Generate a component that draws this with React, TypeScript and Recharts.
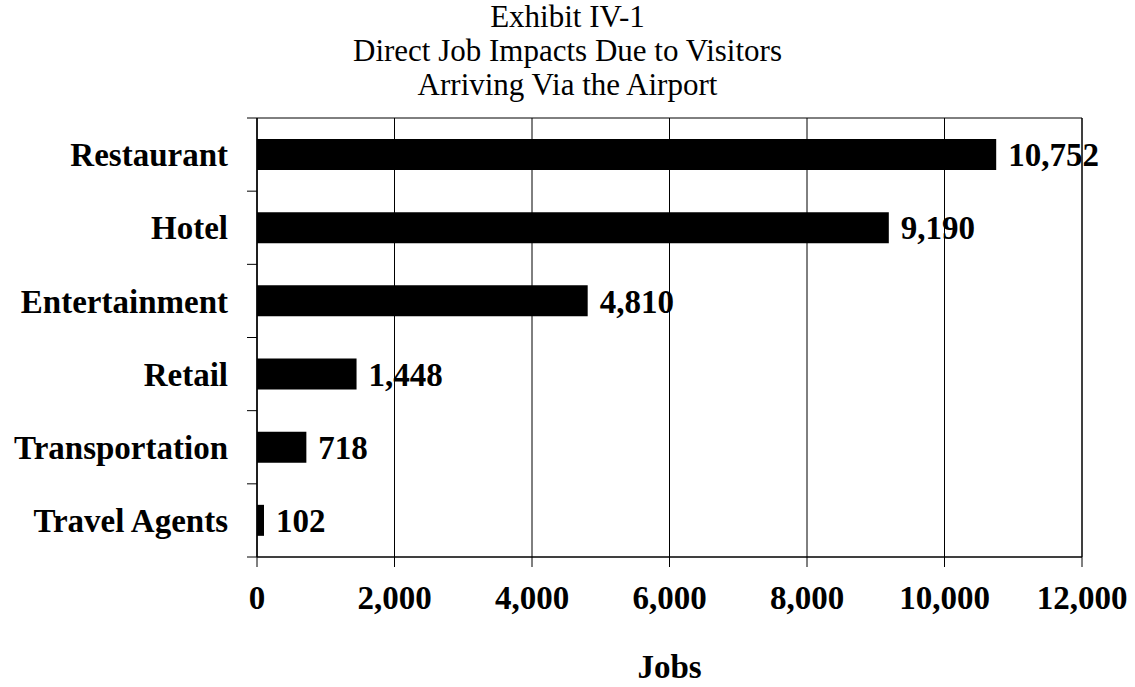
import React from 'react';
import { BarChart, Bar, XAxis, YAxis, CartesianGrid, LabelList, ReferenceArea, Label } from 'recharts';

const categories = ['Restaurant', 'Hotel', 'Entertainment', 'Retail', 'Transportation', 'Travel Agents'];
const jobs = [10752, 9190, 4810, 1448, 718, 102];
const xTicks = [0, 2000, 4000, 6000, 8000, 10000, 12000];
const titleLines = ['Exhibit IV-1', 'Direct Job Impacts Due to Visitors', 'Arriving Via the Airport'];
const xAxisTitle = 'Jobs';

const data = categories.map((name, i) => ({ name, jobs: jobs[i] }));

const W = 1135;
const H = 687;
const MARGIN = { top: 118, right: 53, bottom: 0, left: 0 };
const Y_AXIS_W = 257;
const X_AXIS_H = 130;
const TICK_SIZE = 10;
const TICK_MARGIN = 19;
const FONT = '"Liberation Serif", "Times New Roman", serif';
const fmt = (v: number) => v.toLocaleString('en-US');

const CategoryTick = (props: any) => {
  const { x, y, payload, index, visibleTicksCount, height } = props;
  const plotH = typeof height === 'number' ? height : H - MARGIN.top - X_AXIS_H;
  const band = plotH / (visibleTicksCount || categories.length);
  const axisX = x + TICK_MARGIN + TICK_SIZE;
  return (
    <g>
      <line x1={axisX - TICK_SIZE} x2={axisX} y1={y - band / 2} y2={y - band / 2} stroke="#000" strokeWidth={1} />
      {index === (visibleTicksCount || categories.length) - 1 && (
        <line x1={axisX - TICK_SIZE} x2={axisX} y1={y + band / 2} y2={y + band / 2} stroke="#000" strokeWidth={1} />
      )}
      <text x={x} y={y} dy="0.355em" textAnchor="end" fill="#000" fontFamily={FONT} fontWeight="bold" fontSize={33}>
        {payload.value}
      </text>
    </g>
  );
};

export default function App() {
  return (
    <div style={{ position: 'absolute', left: 0, top: 0, width: W, height: H, background: '#fff' }}>
      <div
        style={{
          position: 'absolute',
          left: 0,
          top: 0,
          width: W,
          textAlign: 'center',
          fontFamily: FONT,
          fontSize: 31,
          lineHeight: '34px',
          color: '#000',
          zIndex: 2,
        }}
      >
        {titleLines.map((t) => (
          <div key={t}>{t}</div>
        ))}
      </div>
      <BarChart width={W} height={H} data={data} layout="vertical" margin={MARGIN}>
        <CartesianGrid horizontal={false} vertical={true} stroke="#000" strokeWidth={1} />
        <ReferenceArea x1={0} x2={12000} fill="none" fillOpacity={0} stroke="#000" strokeWidth={1} ifOverflow="visible" />
        <XAxis
          type="number"
          dataKey="jobs"
          domain={[0, 12000]}
          ticks={xTicks}
          interval={0}
          tickFormatter={fmt}
          tickSize={TICK_SIZE}
          tickMargin={TICK_MARGIN}
          height={X_AXIS_H}
          axisLine={{ stroke: '#000', strokeWidth: 1 }}
          tickLine={{ stroke: '#000', strokeWidth: 1 }}
          tick={{ fill: '#000', fontFamily: FONT, fontWeight: 'bold', fontSize: 33 }}
        >
          <Label
            value={xAxisTitle}
            position="insideBottom"
            offset={9}
            fill="#000"
            fontFamily={FONT}
            fontWeight="bold"
            fontSize={33}
          />
        </XAxis>
        <YAxis
          type="category"
          dataKey="name"
          width={Y_AXIS_W}
          interval={0}
          tickSize={TICK_SIZE}
          tickMargin={TICK_MARGIN}
          tickLine={false}
          axisLine={{ stroke: '#000', strokeWidth: 1 }}
          tick={<CategoryTick />}
        />
        <Bar dataKey="jobs" fill="#000" barSize={31} isAnimationActive={false}>
          <LabelList
            dataKey="jobs"
            position="right"
            offset={12}
            formatter={(v: any) => fmt(Number(v))}
            fill="#000"
            fontFamily={FONT}
            fontWeight="bold"
            fontSize={33}
          />
        </Bar>
      </BarChart>
    </div>
  );
}
